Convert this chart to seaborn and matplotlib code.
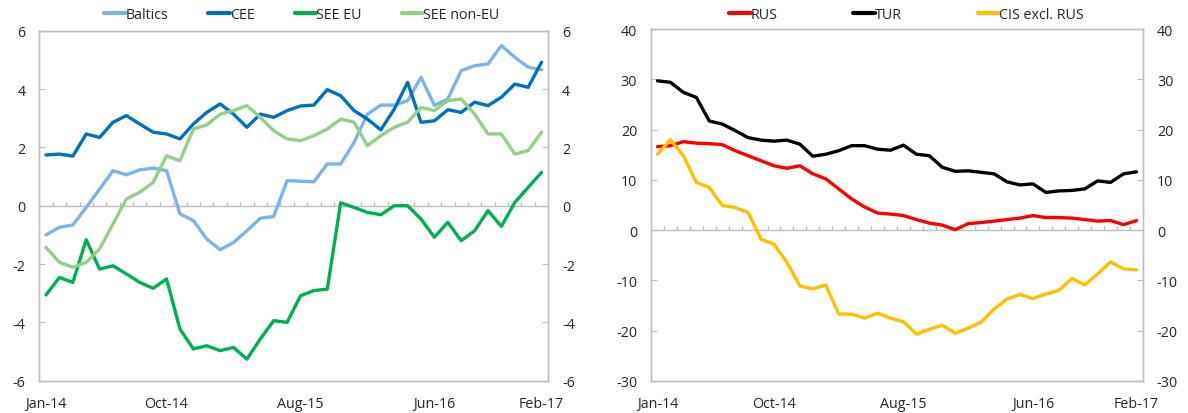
import numpy as np
import pandas as pd
import matplotlib
matplotlib.use('Agg')
import matplotlib.pyplot as plt
import seaborn as sns

# monthly axis, Jan-14 .. Feb-17
months = pd.date_range('2014-01-01', '2017-02-01', freq='MS')
month_labels = [d.strftime('%b-%y') for d in months]
tick_labels = ['Jan-14', 'Oct-14', 'Aug-15', 'Jun-16', 'Feb-17']

# left panel
baltics = [-1.00, -0.74, -0.66, -0.06, 0.57, 1.20, 1.06, 1.23, 1.29, 1.20,
           -0.28, -0.51, -1.14, -1.51, -1.26, -0.86, -0.43, -0.37, 0.86, 0.84,
           0.82, 1.43, 1.43, 2.17, 3.14, 3.45, 3.45, 3.60, 4.40, 3.44,
           3.66, 4.63, 4.80, 4.86, 5.49, 5.09, 4.75, 4.66]
cee = [1.74, 1.77, 1.70, 2.46, 2.34, 2.86, 3.09, 2.80, 2.52, 2.46,
       2.29, 2.80, 3.20, 3.49, 3.14, 2.69, 3.14, 3.03, 3.26, 3.42,
       3.45, 3.98, 3.77, 3.26, 2.97, 2.60, 3.31, 4.23, 2.86, 2.91,
       3.29, 3.20, 3.55, 3.43, 3.72, 4.17, 4.06, 4.92]
see_eu = [-3.06, -2.46, -2.63, -1.17, -2.17, -2.06, -2.34, -2.63, -2.83, -2.51,
          -4.23, -4.91, -4.80, -4.97, -4.86, -5.26, -4.57, -3.94, -4.00, -3.09,
          -2.91, -2.86, 0.10, -0.06, -0.23, -0.31, 0.00, 0.00, -0.46, -1.08,
          -0.57, -1.20, -0.86, -0.17, -0.71, 0.11, 0.63, 1.14]
see_non_eu = [-1.43, -1.94, -2.11, -1.94, -1.48, -0.63, 0.23, 0.46, 0.80, 1.71,
              1.54, 2.63, 2.77, 3.14, 3.26, 3.43, 3.03, 2.57, 2.29, 2.23,
              2.40, 2.63, 2.97, 2.86, 2.06, 2.40, 2.69, 2.86, 3.37, 3.26,
              3.60, 3.66, 3.14, 2.46, 2.46, 1.77, 1.89, 2.52]

# right panel
rus = [16.6, 16.8, 17.6, 17.3, 17.2, 17.0, 15.8, 14.8, 13.8, 12.8,
       12.3, 12.8, 11.2, 10.2, 8.2, 6.2, 4.6, 3.4, 3.2, 2.9,
       2.1, 1.4, 1.0, 0.1, 1.3, 1.5, 1.8, 2.1, 2.4, 2.9,
       2.5, 2.5, 2.4, 2.1, 1.8, 1.9, 1.1, 1.9]
tur = [29.7, 29.4, 27.4, 26.4, 21.7, 21.1, 19.8, 18.4, 17.9, 17.7,
       17.9, 17.1, 14.7, 15.1, 15.8, 16.8, 16.8, 16.1, 15.9, 16.9,
       15.1, 14.8, 12.5, 11.7, 11.8, 11.5, 11.2, 9.6, 9.0, 9.2,
       7.5, 7.8, 7.9, 8.2, 9.8, 9.5, 11.2, 11.6]
cis = [15.1, 18.0, 14.8, 9.5, 8.5, 4.9, 4.5, 3.5, -1.8, -2.8,
       -6.4, -11.1, -11.7, -10.9, -16.7, -16.7, -17.5, -16.5, -17.5, -18.2,
       -20.7, -19.7, -18.9, -20.5, -19.5, -18.3, -15.7, -13.7, -12.8, -13.6,
       -12.7, -12.0, -9.6, -10.9, -8.7, -6.3, -7.7, -7.9]

left_series = {'Baltics': baltics, 'CEE': cee, 'SEE EU': see_eu, 'SEE non-EU': see_non_eu}
left_colors = ['#7db3e6', '#0070c0', '#00b050', '#93d086']
right_series = {'RUS': rus, 'TUR': tur, 'CIS excl. RUS': cis}
right_colors = ['#ff0000', '#000000', '#ffc000']

sns.set_style('white')
plt.rcParams['font.family'] = ['Open Sans', 'DejaVu Sans']
plt.rcParams['axes.unicode_minus'] = False
FS = 10.3
GRAY = '#bfbfbf'
TXT = '#262626'

fig = plt.figure(figsize=(11.88, 4.14), dpi=100)
ax_l = fig.add_axes([0.0331, 0.078, 0.4284, 0.8454])
ax_r = fig.add_axes([0.548, 0.0773, 0.4141, 0.8502])

idx = np.arange(len(month_labels))
tick_pos = [month_labels.index(t) for t in tick_labels]


def draw_panel(ax, series, colors, ylim, ystep, legend_x, colspace):
    # zero line with small category ticks pointing up (drawn under the data)
    ax.axhline(0, color=GRAY, linewidth=1.0, zorder=1)
    ax_h = ax.get_position().height * fig.get_figheight() * fig.dpi
    zero_frac = (0 - ylim[0]) / (ylim[1] - ylim[0])
    ax.vlines(np.arange(0.5, len(idx) - 1, 1.0), zero_frac, zero_frac + 4.0 / ax_h,
              transform=ax.get_xaxis_transform(), color=GRAY, linewidth=1.0, zorder=1)

    for (name, vals), col in zip(series.items(), colors):
        sns.lineplot(x=idx, y=vals, color=col, linewidth=2.4, label=name, ax=ax,
                     solid_capstyle='round', solid_joinstyle='round', zorder=3)
    handles, labels = ax.get_legend_handles_labels()
    if ax.get_legend() is not None:
        ax.get_legend().remove()

    ax.set_xlim(-0.5, len(idx) - 0.5)
    ax.set_ylim(*ylim)
    yt = np.arange(ylim[0], ylim[1] + ystep, ystep)
    ax.set_yticks(yt)
    ax.set_xticks(tick_pos, tick_labels)
    ax.tick_params(axis='x', length=0, pad=11, labelsize=FS, labelcolor=TXT)
    ax.tick_params(axis='y', direction='in', length=4, color=GRAY, pad=10,
                   labelsize=FS, labelcolor=TXT)
    for sp in ax.spines.values():
        sp.set_color(GRAY)
        sp.set_linewidth(1.0)

    tw = ax.twinx()
    tw.set_ylim(*ylim)
    tw.set_yticks(yt)
    tw.tick_params(axis='y', direction='in', length=4, color=GRAY, pad=10,
                   labelsize=FS, labelcolor=TXT)
    for sp in tw.spines.values():
        sp.set_color(GRAY)
        sp.set_linewidth(1.0)

    leg = fig.legend(handles, labels, loc='center', bbox_to_anchor=(legend_x, 0.962),
                     ncol=len(labels), frameon=False, handlelength=1.5,
                     handletextpad=0.0, columnspacing=colspace, fontsize=FS,
                     labelcolor=TXT)
    for h in leg.get_lines():
        h.set_linewidth(3.0)


draw_panel(ax_l, left_series, left_colors, (-6, 6), 2, 0.254, 2.8)
draw_panel(ax_r, right_series, right_colors, (-30, 40), 10, 0.763, 5.3)

fig.savefig('out.png', dpi=100)
